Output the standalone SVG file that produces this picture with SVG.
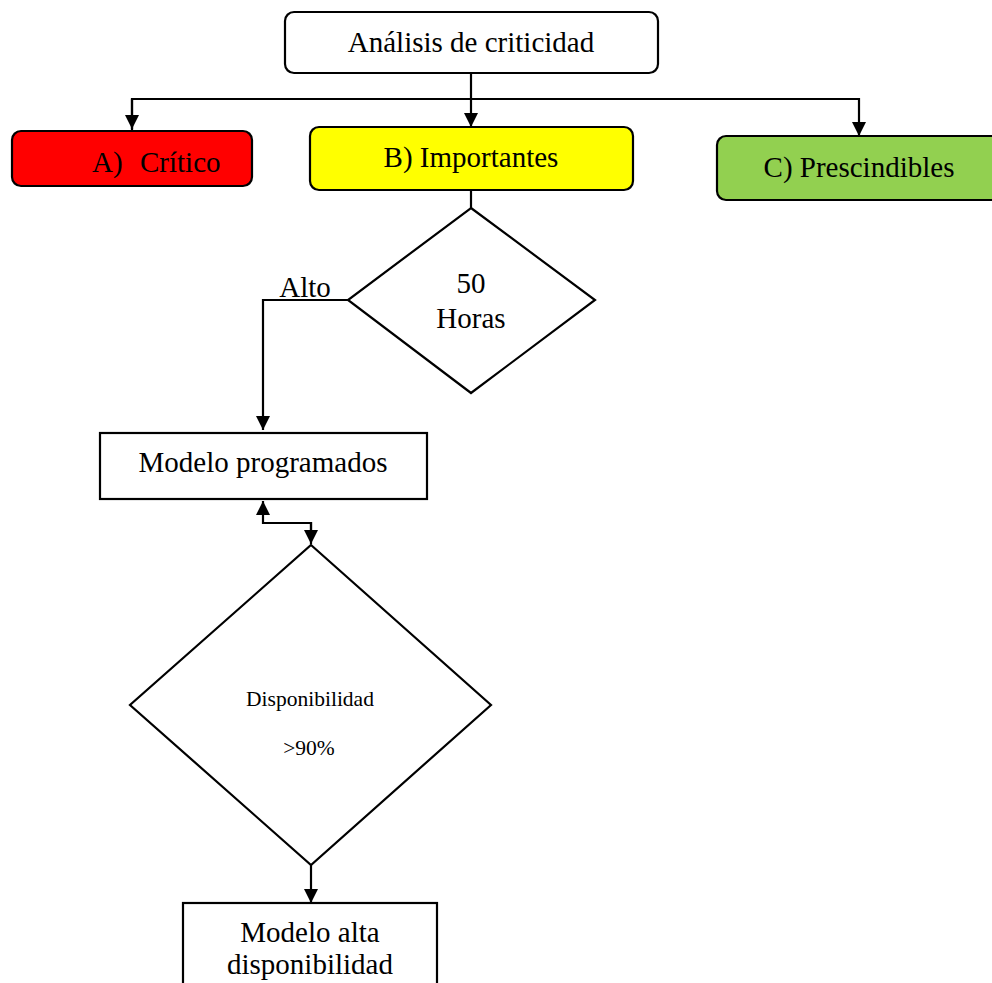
<svg xmlns="http://www.w3.org/2000/svg" width="992" height="983" viewBox="0 0 992 983">
<defs>
<marker id="arr" viewBox="0 0 10 10" refX="10" refY="5" markerWidth="14" markerHeight="14" markerUnits="userSpaceOnUse" orient="auto">
<path d="M0,0 L10,5 L0,10 z" fill="#000"/>
</marker>
</defs>
<style>
.box{stroke:#000;stroke-width:2.2}
.t{font-family:"Liberation Serif","Times New Roman",serif;font-size:29px;fill:#000;text-anchor:middle}
.s{font-family:"Liberation Serif","Times New Roman",serif;font-size:21.5px;fill:#000;text-anchor:middle}
.c{fill:none;stroke:#000;stroke-width:2.2}
</style>
<rect width="992" height="983" fill="#fff"/>
<g id="connectors">
<path class="c" d="M471,73 V127" marker-end="url(#arr)"/>
<path class="c" d="M132,130 V99 H859 V136" marker-end="url(#arr)"/>
<path class="c" d="M132,99 V129" marker-end="url(#arr)"/>
<path class="c" d="M471,191 V208"/>
<path class="c" d="M348,300 H263 V430" marker-end="url(#arr)"/>
<path class="c" d="M311,530 V523 H263 V501" marker-end="url(#arr)"/>
<path class="c" d="M263,523 H311 V544" marker-end="url(#arr)"/>
<path class="c" d="M311,865 V903" marker-end="url(#arr)"/>
</g>
<g id="analisis">
<rect class="box" x="285" y="12" width="373" height="61" rx="9" fill="#fff"/>
<text class="t" x="471" y="52">Análisis de criticidad</text>
</g>
<g id="critico">
<rect class="box" x="12" y="131" width="240" height="55" rx="9" fill="#ff0000"/>
<text class="t" x="92" y="172" style="text-anchor:start">A)</text>
<text class="t" x="140" y="172" style="text-anchor:start">Crítico</text>
</g>
<g id="importantes">
<rect class="box" x="310" y="127" width="323" height="63" rx="9" fill="#ffff00"/>
<text class="t" x="471" y="167">B) Importantes</text>
</g>
<g id="prescindibles">
<rect class="box" x="717" y="136" width="290" height="64" rx="9" fill="#92d050"/>
<text class="t" x="859" y="177">C) Prescindibles</text>
</g>
<g id="horas">
<polygon class="box" points="471,208 595,300 471,393 348,300" fill="#fff"/>
<text class="t" x="471" y="293">50</text>
<text class="t" x="471" y="328">Horas</text>
</g>
<g id="alto-label">
<text class="t" x="305" y="297">Alto</text>
</g>
<g id="programados">
<rect class="box" x="100" y="433" width="327" height="66" fill="#fff"/>
<text class="t" x="263" y="472">Modelo programados</text>
</g>
<g id="disponibilidad">
<polygon class="box" points="311,545 491,705 311,865 130,705" fill="#fff"/>
<text class="s" x="310" y="706">Disponibilidad</text>
<text class="s" x="309" y="755">&gt;90%</text>
</g>
<g id="alta">
<rect class="box" x="183" y="903" width="254" height="100" fill="#fff"/>
<text class="t" x="310" y="942">Modelo alta</text>
<text class="t" x="310" y="974">disponibilidad</text>
</g>
</svg>
